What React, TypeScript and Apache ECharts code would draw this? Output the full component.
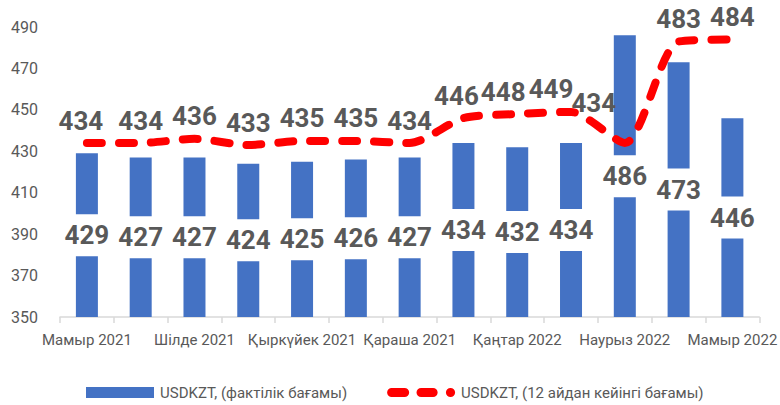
import React, { useEffect, useRef } from "react";
import * as echarts from "echarts";

const categories = [
  "Мамыр 2021", "Маусым 2021", "Шілде 2021", "Тамыз 2021", "Қыркүйек 2021", "Қазан 2021",
  "Қараша 2021", "Желтоқсан 2021", "Қаңтар 2022", "Ақпан 2022", "Наурыз 2022", "Сәуір 2022", "Мамыр 2022",
];
const actualValues = [429, 427, 427, 424, 425, 426, 427, 434, 432, 434, 486, 473, 446];
const forecastValues = [434, 434, 436, 433, 435, 435, 434, 446, 448, 449, 434, 483, 484];
const labelOffsets: Record<number, [number, number]> = {
  0: [-6, 0], 7: [-7, 0], 8: [-14, 0], 9: [-20, 0], 10: [-31, -18],
};

const FONT = "Roboto, 'DejaVu Sans Condensed', sans-serif";
const GREY = "#595959";
const DASH_ICON =
  "path://M5,0 H19 A5,5 0 0 1 19,10 H5 A5,5 0 0 1 5,0 Z M37,0 H50 A5,5 0 0 1 50,10 H37 A5,5 0 0 1 37,0 Z M69,0 A5,5 0 0 1 69,10 A5,5 0 0 1 69,0 Z";

export default function App() {
  const ref = useRef<HTMLDivElement>(null);
  useEffect(() => {
    if (!ref.current) return;
    const chart = echarts.init(ref.current, undefined, { renderer: "svg" });
    chart.setOption({
      animation: false,
      textStyle: { fontFamily: FONT },
      grid: { left: 60, right: 12, top: 27, bottom: 88, containLabel: false },
      legend: {
        top: 385,
        left: 86,
        padding: 0,
        itemGap: 40,
        itemWidth: 68,
        itemHeight: 11,
        textStyle: { fontFamily: FONT, fontSize: 15, color: GREY, padding: [0, 0, 0, 1] },
        data: [
          { name: "USDKZT, (фактілік бағамы)", icon: "rect" },
          { name: "USDKZT, (12 айдан кейінгі бағамы)", icon: DASH_ICON, itemStyle: { color: "#ff0000", opacity: 1 } },
        ],
      },
      xAxis: {
        type: "category",
        data: categories,
        axisLine: { lineStyle: { color: "#d9d9d9", width: 1.5 } },
        axisTick: { show: true, interval: 0, length: 6, lineStyle: { color: "#d9d9d9", width: 1.5 } },
        axisLabel: { interval: 1, color: GREY, fontSize: 15, fontFamily: FONT, margin: 15 },
      },
      yAxis: {
        type: "value",
        min: 350,
        max: 490,
        interval: 20,
        splitLine: { show: false },
        axisLine: { show: false },
        axisTick: { show: false },
        axisLabel: { color: GREY, fontSize: 16, fontFamily: FONT, margin: 22 },
      },
      series: [
        {
          name: "USDKZT, (фактілік бағамы)",
          type: "bar",
          data: actualValues,
          barWidth: 22,
          itemStyle: { color: "#4472C4" },
          z: 2,
          label: {
            show: true,
            position: "inside",
            color: GREY,
            fontSize: 26,
            fontWeight: "bold",
            fontFamily: FONT,
            lineHeight: 28,
            backgroundColor: "#ffffff",
            padding: [7, 2],
          },
        },
        {
          name: "USDKZT, (12 айдан кейінгі бағамы)",
          type: "line",
          data: forecastValues.map((v, i) =>
            labelOffsets[i] ? { value: v, label: { offset: labelOffsets[i] } } : v
          ),
          smooth: 0.25,
          symbol: "circle",
          symbolSize: 1,
          showSymbol: true,
          z: 3,
          itemStyle: { color: "rgba(255,0,0,0)" },
          lineStyle: { color: "#ff0000", width: 8, type: [15, 17], cap: "round", join: "round" },
          label: {
            show: true,
            position: "top",
            distance: 9,
            color: GREY,
            fontSize: 26,
            fontWeight: "bold",
            fontFamily: FONT,
          },
        },
      ],
    });
    return () => chart.dispose();
  }, []);
  return (
    <div
      ref={ref}
      style={{ position: "absolute", left: 0, top: 0, width: 780, height: 405 }}
    />
  );
}
